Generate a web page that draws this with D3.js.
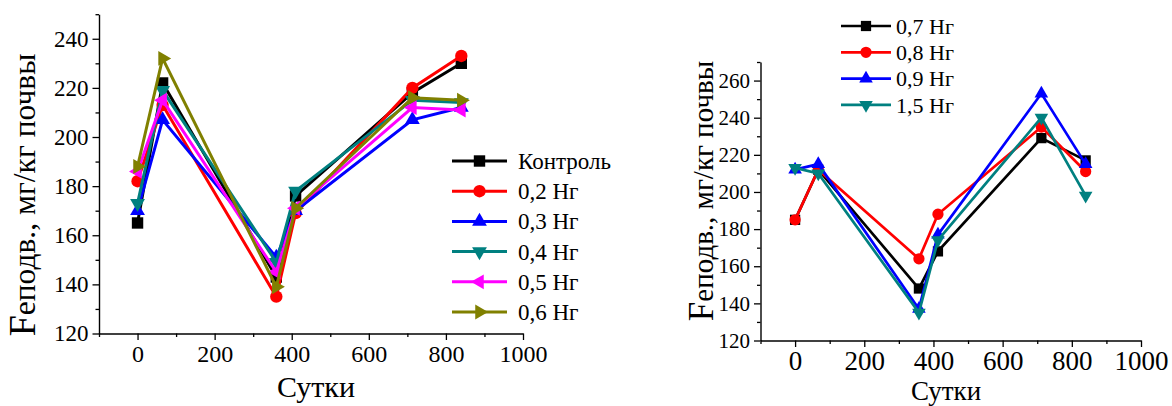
<!DOCTYPE html>
<html>
<head>
<meta charset="utf-8">
<script src="https://cdn.jsdelivr.net/npm/d3@7/dist/d3.min.js"></script>
<style>
  html, body { margin: 0; padding: 0; background: #fff; }
  svg { display: block; }
  svg text { font-family: "Liberation Serif", "Times New Roman", "DejaVu Serif", serif !important; fill: #000; }
</style>
</head>
<body>
<svg id="chart" width="1172" height="406"></svg>
<script>
// Mobile iron content in soil over time for different Hg doses
const daysLeft = [0, 65, 360, 410, 713, 840];
const daysRight = [0, 67, 358, 413, 712, 840];

const namesLeft = ["Контроль", "0,2 Нг", "0,3 Нг", "0,4 Нг", "0,5 Нг", "0,6 Нг"];
const control = [165, 222, 143, 176, 218, 230];
const hg02 = [182, 213, 135, 169, 220, 233];
const hg03 = [170, 207, 151, 170, 207, 212];
const hg04 = [173, 219, 149, 178, 215, 214];
const hg05 = [186, 215, 145, 171, 212, 211];
const hg06 = [188, 232, 139, 171, 216, 215];

const namesRight = ["0,7 Нг", "0,8 Нг", "0,9 Нг", "1,5 Нг"];
const hg07 = [185, 212, 148, 168, 229, 217];
const hg08 = [185, 212, 164, 188, 235, 211];
const hg09 = [212, 215, 137, 177, 253, 215];
const hg15 = [213, 210, 135, 174, 240, 198];

const xTicks = [0, 200, 400, 600, 800, 1000];
const yTicksLeft = [120, 140, 160, 180, 200, 220, 240];
const yTicksRight = [120, 140, 160, 180, 200, 220, 240, 260];

const svg = d3.select("#chart");

// marker shapes: [symbol type, rotation]
const shapes = [
  [d3.symbolSquare, 0],
  [d3.symbolCircle, 0],
  [d3.symbolTriangle, 0],
  [d3.symbolTriangle, 180],
  [d3.symbolTriangle, -90],
  [d3.symbolTriangle, 90]
];
const colors = ["#000000", "#ff0000", "#0000ff", "#008080", "#ff00ff", "#808000"];

function drawPanel(cfg) {
  const g = svg.append("g");
  const x = d3.scaleLinear().domain([-100, 1000]).range([cfg.x0, cfg.x1]);
  const y = d3.scaleLinear().domain(cfg.yDomain).range([cfg.y0, cfg.y1]);

  // minor ticks
  const minorX = d3.range(-100, 1001, 100).filter(v => v % 200 !== 0);
  const minorY = d3.range(cfg.yDomain[0] + 10, cfg.yDomain[1] + 1, 20);

  g.append("g").attr("transform", `translate(0,${cfg.y0})`)
    .call(d3.axisBottom(x).tickValues(minorX).tickSize(3.5).tickFormat(""))
    .call(s => s.select(".domain").remove())
    .selectAll("line").attr("stroke-width", 1.3);
  g.append("g").attr("transform", `translate(${cfg.x0},0)`)
    .call(d3.axisLeft(y).tickValues(minorY).tickSize(3.5).tickFormat(""))
    .call(s => s.select(".domain").remove())
    .selectAll("line").attr("stroke-width", 1.3);

  // major axes
  const ax = g.append("g").attr("transform", `translate(0,${cfg.y0})`)
    .call(d3.axisBottom(x).tickValues(xTicks).tickFormat(d3.format("d"))
      .tickSize(6.5).tickSizeOuter(0).tickPadding(cfg.xPad));
  const ay = g.append("g").attr("transform", `translate(${cfg.x0},0)`)
    .call(d3.axisLeft(y).tickValues(cfg.yTicks).tickFormat(d3.format("d"))
      .tickSize(6.5).tickSizeOuter(0).tickPadding(4));
  [ax, ay].forEach(a => {
    a.select(".domain").attr("stroke-width", 1.4);
    a.selectAll("line").attr("stroke-width", 1.3);
  });
  ax.selectAll("text").attr("font-size", cfg.xFont);
  ay.selectAll("text").attr("font-size", cfg.yFont);

  // series
  const line = d3.line().x(d => x(d[0])).y(d => y(d[1]));
  const symSize = type => type === d3.symbolSquare ? cfg.msq : type === d3.symbolCircle ? cfg.mci : cfg.mtr;
  cfg.series.forEach((vals, i) => {
    const pts = cfg.days.map((d, j) => [d, vals[j]]);
    g.append("path").datum(pts)
      .attr("d", line).attr("fill", "none")
      .attr("stroke", colors[i]).attr("stroke-width", cfg.lw)
      .attr("stroke-linejoin", "miter");
    const [type, rot] = shapes[i];
    g.selectAll(null).data(pts).enter().append("path")
      .attr("d", d3.symbol().type(type).size(symSize(type)))
      .attr("transform", d => `translate(${x(d[0])},${y(d[1])}) rotate(${rot})`)
      .attr("fill", colors[i]);
  });

  // legend
  cfg.names.forEach((name, i) => {
    const cy = cfg.leg.y0 + i * cfg.leg.dy;
    g.append("line")
      .attr("x1", cfg.leg.x1).attr("x2", cfg.leg.x2)
      .attr("y1", cy).attr("y2", cy)
      .attr("stroke", colors[i]).attr("stroke-width", cfg.lw);
    const [type, rot] = shapes[i];
    g.append("path")
      .attr("d", d3.symbol().type(type).size(symSize(type)))
      .attr("transform", `translate(${(cfg.leg.x1 + cfg.leg.x2) / 2},${cy}) rotate(${rot})`)
      .attr("fill", colors[i]);
    g.append("text")
      .attr("x", cfg.leg.tx).attr("y", cy)
      .attr("dy", "0.35em")
      .attr("font-size", cfg.leg.font)
      .text(name);
  });

  // axis titles
  const yl = g.append("text")
    .attr("transform", `translate(${cfg.ylab.x},${cfg.ylab.y}) rotate(-90)`)
    .attr("text-anchor", "middle");
  yl.append("tspan").attr("font-size", cfg.ylab.big).text("F");
  yl.append("tspan").attr("font-size", cfg.ylab.font).text("eподв., мг/кг почвы");

  g.append("text")
    .attr("x", cfg.xlab.x).attr("y", cfg.xlab.y)
    .attr("text-anchor", "middle")
    .attr("font-size", cfg.xlab.font)
    .text("Сутки");
}

drawPanel({
  x0: 99, x1: 523, y0: 333.5, y1: 14.2,
  yDomain: [120, 250], yTicks: yTicksLeft,
  xFont: 24, yFont: 23, xPad: 5,
  days: daysLeft, series: [control, hg02, hg03, hg04, hg05, hg06], names: namesLeft,
  lw: 3, msq: 130, mci: 120, mtr: 95,
  leg: { x1: 452, x2: 507, tx: 518, y0: 161, dy: 30.2, font: 23 },
  ylab: { x: 35, y: 195, font: 31.5, big: 38 },
  xlab: { x: 316, y: 397, font: 30 }
});

drawPanel({
  x0: 760.5, x1: 1141, y0: 340.5, y1: 62,
  yDomain: [120, 270], yTicks: yTicksRight,
  xFont: 27, yFont: 21, xPad: 4,
  days: daysRight, series: [hg07, hg08, hg09, hg15], names: namesRight,
  lw: 2.7, msq: 105, mci: 100, mtr: 80,
  leg: { x1: 841, x2: 891, tx: 896, y0: 26, dy: 26.3, font: 22 },
  ylab: { x: 713, y: 191, font: 29, big: 35 },
  xlab: { x: 946, y: 400, font: 27 }
});
</script>
</body>
</html>
